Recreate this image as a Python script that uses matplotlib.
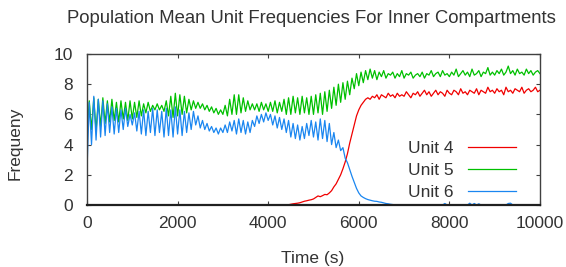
import numpy as np
import matplotlib
matplotlib.use("Agg")
from matplotlib import pyplot as plt

# time grid in seconds, one sample every 50 s
time_s = np.arange(0, 10001, 50)

unit4 = [
    0, 0, 0, 0, 0, 0, 0, 0, 0, 0, 0, 0, 0, 0, 0, 0, 0, 0, 0, 0,
    0, 0, 0, 0, 0, 0, 0, 0, 0, 0, 0, 0, 0, 0, 0, 0, 0, 0, 0, 0,
    0, 0, 0, 0, 0, 0, 0, 0, 0, 0, 0, 0, 0, 0, 0, 0, 0, 0, 0, 0,
    0, 0, 0, 0, 0, 0, 0, 0, 0, 0, 0, 0, 0, 0, 0, 0, 0, 0, 0, 0,
    0, 0, 0, 0, 0, 0, 0, 0, 0, 0.02, 0.05, 0.08, 0.1, 0.12, 0.15, 0.2, 0.25, 0.28, 0.32, 0.35,
    0.4, 0.5, 0.6, 0.55, 0.62, 0.7, 0.68, 0.8, 0.95, 1.2, 1.4, 1.7, 2.0, 2.4, 2.85, 3.4, 4.1, 4.7, 5.3, 5.9,
    6.3, 6.6, 6.8, 7.0, 7.1, 7.0, 7.2, 7.1, 7.3, 7.0, 7.3, 7.2, 7.1, 7.4, 7.2, 7.3, 7.1, 7.4, 7.2, 7.3,
    7.2, 7.5, 7.3, 7.1, 7.4, 7.3, 7.5, 7.2, 7.4, 7.6, 7.3, 7.5, 7.2, 7.4, 7.6, 7.3, 7.5, 7.4, 7.2, 7.6,
    7.4, 7.3, 7.6, 7.5, 7.3, 7.7, 7.4, 7.5, 7.3, 7.6, 7.5, 7.4, 7.7, 7.3, 7.6, 7.5, 7.4, 7.8, 7.5, 7.6,
    7.4, 7.7, 7.5, 7.6, 7.3, 7.8, 7.5, 7.6, 7.4, 7.7, 7.6, 7.5, 7.8, 7.4, 7.6, 7.7, 7.5, 7.6, 7.8, 7.5,
    7.6,
]

unit5 = [
    4.8, 6.9, 5.0, 7.1, 4.9, 7.0, 5.2, 7.1, 5.4, 6.9, 5.5, 7.0, 5.6, 6.8, 5.5, 6.9, 5.7, 6.8, 5.6, 6.9,
    5.7, 6.8, 5.8, 6.9, 5.9, 6.7, 6.1, 6.8, 6.2, 6.6, 6.3, 6.7, 6.3, 6.6, 6.2, 6.9, 5.9, 7.2, 5.8, 7.4,
    5.9, 7.3, 6.0, 7.2, 6.1, 7.0, 6.3, 6.9, 6.4, 6.8, 6.4, 6.7, 6.3, 6.6, 6.2, 6.5, 6.1, 6.4, 6.0, 6.3,
    6.0, 6.6, 5.9, 7.0, 6.0, 7.3, 6.0, 7.3, 6.1, 7.1, 6.2, 6.9, 6.3, 6.7, 6.3, 6.7, 6.2, 6.8, 6.3, 6.7,
    6.2, 6.8, 6.2, 6.9, 6.1, 6.8, 6.2, 7.0, 6.0, 7.1, 6.0, 7.2, 6.1, 7.1, 6.0, 7.2, 6.1, 7.1, 6.0, 7.2,
    6.0, 7.3, 6.1, 7.4, 6.0, 7.5, 6.2, 7.6, 6.4, 7.8, 6.6, 8.0, 6.8, 8.1, 7.0, 8.2, 7.3, 8.4, 7.7, 8.7,
    7.9, 8.8, 8.1, 8.9, 8.3, 9.0, 8.4, 8.9, 8.3, 8.8, 8.5, 8.9, 8.4, 8.7, 8.6, 8.8, 8.4, 8.7, 8.5, 8.9,
    8.4, 8.7, 8.6, 8.8, 8.4, 8.6, 8.7, 8.5, 8.8, 8.4, 8.7, 8.6, 8.9, 8.5, 8.7, 8.8, 8.5, 8.9, 8.6, 8.7,
    8.5, 8.8, 8.6, 9.0, 8.5, 8.7, 8.9, 8.6, 8.8, 8.5, 9.0, 8.6, 8.7, 8.9, 8.5, 8.8, 8.7, 9.1, 8.6, 8.8,
    8.6, 8.9, 8.7, 9.0, 8.6, 8.8, 9.2, 8.7, 8.9, 8.6, 9.0, 8.7, 8.8, 8.6, 9.0, 8.7, 8.9, 8.6, 8.8, 8.9,
    8.7,
]

unit6 = [
    2.3, 6.8, 4.0, 7.2, 4.3, 7.0, 4.5, 6.9, 4.6, 6.7, 4.8, 6.5, 4.7, 6.4, 4.8, 6.3, 5.0, 6.4, 5.2, 6.0,
    5.3, 6.1, 4.9, 6.2, 4.7, 6.3, 4.6, 6.2, 4.8, 6.4, 4.6, 6.3, 4.8, 6.2, 4.5, 6.4, 4.6, 6.3, 4.5, 6.5,
    4.7, 6.3, 4.6, 6.2, 4.8, 6.1, 5.0, 6.2, 5.3, 5.9, 5.1, 5.6, 5.0, 5.4, 4.9, 5.2, 4.8, 5.1, 4.7, 5.1,
    4.8, 5.3, 4.8, 5.5, 4.9, 5.6, 4.7, 5.7, 4.8, 5.6, 4.7, 5.5, 4.8, 5.6, 5.2, 5.9, 5.4, 6.0, 5.5, 6.1,
    5.6, 6.0, 5.3, 5.9, 5.1, 5.8, 5.0, 5.7, 4.8, 5.6, 4.5, 5.4, 4.4, 5.3, 4.3, 5.2, 4.4, 5.4, 4.6, 5.6,
    4.5, 5.5, 4.3, 5.7, 4.4, 5.6, 4.2, 5.4, 4.0, 4.8, 3.8, 4.3, 3.6, 3.8, 3.1, 2.8, 2.35, 1.9, 1.5, 1.1,
    0.8, 0.6, 0.5, 0.42, 0.36, 0.32, 0.28, 0.25, 0.24, 0.2, 0.18, 0.14, 0.1, 0.08, 0.05, 0.03, 0, 0, 0, 0,
    0, 0, 0, 0, 0, 0, 0, 0, 0, 0, 0, 0, 0, 0, 0, 0, 0, 0, 0.1, 0,
    0, 0, 0, 0, 0, 0, 0, 0, 0, 0.12, 0, 0.1, 0, 0.08, 0, 0, 0, 0, 0, 0,
    0, 0, 0, 0, 0, 0, 0.1, 0.12, 0, 0, 0, 0, 0, 0, 0, 0, 0, 0, 0, 0,
    0,
]

series_names = ["Unit 4", "Unit 5", "Unit 6"]
series_colors = ["#f00000", "#00c000", "#1a86f0"]

plt.rcParams['font.family'] = ['Liberation Sans', 'DejaVu Sans']
plt.rcParams['font.size'] = 12.5

fig = plt.figure(figsize=(5.66, 2.67), dpi=100)
ax = fig.add_axes([0.1537, 0.2322, 0.8003, 0.5656])

for vals, name, col in zip([unit4, unit5, unit6], series_names, series_colors):
    ax.plot(time_s, vals, color=col, lw=0.9, label=name, zorder=2)

ax.set_xlim(0, 10000)
ax.set_ylim(0, 10)
ax.set_xticks([0, 2000, 4000, 6000, 8000, 10000])
ax.set_yticks([0, 2, 4, 6, 8, 10])
ax.tick_params(direction='in', length=3, width=0.8, color='#404040',
               top=True, right=True, labelcolor='#333333')
ax.tick_params(axis='x', pad=8)
ax.tick_params(axis='y', pad=10)
for name, sp in ax.spines.items():
    sp.set_color('#404040')
    sp.set_linewidth(1.0)
    sp.set_zorder(5)
ax.spines['bottom'].set_color('#202020')
ax.spines['bottom'].set_linewidth(1.6)

fig.text(0.551, 0.929, "Population Mean Unit Frequencies For Inner Compartments",
         ha='center', va='center', color='#333333', fontsize=13.3)
fig.text(0.553, 0.031, "Time (s)", ha='center', va='center', color='#333333')
fig.text(0.027, 0.465, "Frequeny", ha='center', va='center', rotation=90, color='#333333')

ax.legend(loc='lower right', bbox_to_anchor=(0.982, -0.07), frameon=False,
          markerfirst=False, handlelength=2.8, handletextpad=0.8,
          labelspacing=0.4, fontsize=12.5, labelcolor='#333333')

fig.savefig("out.png", dpi=100)
